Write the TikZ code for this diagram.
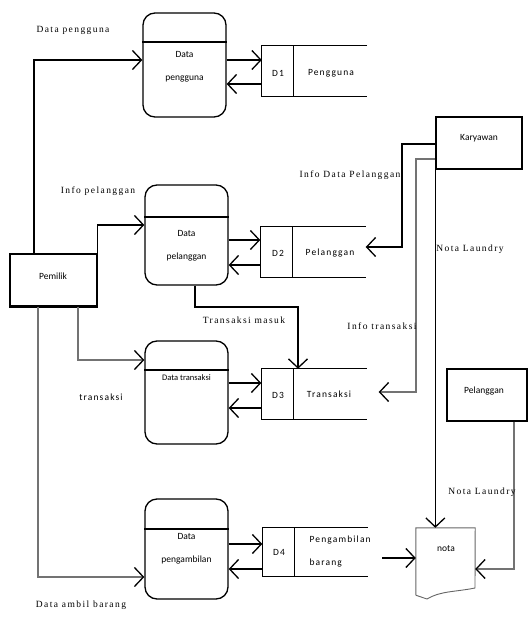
\documentclass[tikz,border=0pt]{standalone}
\usepackage{fontspec}
\setmainfont{Carlito}
\newfontfamily\lblfont[LetterSpace=15]{Liberation Serif}
\newfontfamily\spacedfont[LetterSpace=12]{Carlito}
\usetikzlibrary{arrows.meta}

\tikzset{
  proc/.style={draw,line width=1.3pt,rounded corners=12pt,minimum width=83pt,inner sep=0pt},
  ent/.style={draw,line width=1.3pt,minimum width=86pt,minimum height=52pt,inner sep=0pt},
  storebox/.style={minimum width=105pt,minimum height=50pt,inner sep=0pt},
  tip/.style={-{Straight Barb[length=9pt,width=19pt,line width=1.3pt,color=black]}},
  flow/.style={line width=1.2pt,tip},
  heavy/.style={line width=2.6pt,black!55,tip},
  lbl/.style={font=\lblfont\fontsize{9.5}{11}\selectfont},
  txt/.style={font=\fontsize{9.5}{23}\selectfont,align=center},
  stxt/.style={font=\spacedfont\fontsize{9.5}{23}\selectfont,align=left}
}

\begin{document}
\begin{tikzpicture}[x=1pt,y=-1pt]
  \useasboundingbox (0,0) rectangle (530,617);

  %% Processes
  \node[proc,minimum height=104pt] (p1) at (184.5,65) {};
  \node[proc,minimum height=100pt] (p2) at (186.5,235) {};
  \node[proc,minimum height=103pt] (p3) at (186.5,392.5) {};
  \node[proc,minimum height=100pt] (p4) at (186.5,549) {};
  \foreach \p/\y in {p1/42,p2/217,p3/370,p4/529}
    \draw[line width=1.3pt] (\p.west |- 0,\y) -- (\p.east |- 0,\y);
  \node[txt] at (p1.center |- 0,67) {Data\\pengguna};
  \node[txt] at (p2.center |- 0,246) {Data\\pelanggan};
  \node[txt,font=\fontsize{8.5}{10}\selectfont] at (p3.center |- 0,378) {Data transaksi};
  \node[txt] at (p4.center |- 0,549) {Data\\pengambilan};

  %% Stores
  \node[storebox] (d1) at (314.5,71) {};
  \node[storebox] (d2) at (313,252) {};
  \node[storebox] (d3) at (314,394) {};
  \node[storebox,minimum height=48pt] (d4) at (315,552) {};
  \foreach \s in {d1,d2,d3,d4}{
    \draw[line width=1.3pt] (\s.north east) -- (\s.north west) -- (\s.south west) -- (\s.south east);
    \draw[line width=1pt] ([xshift=32pt]\s.north west) -- ([xshift=32pt]\s.south west);
  }
  \node[stxt] at (278,73) {D1};
  \node[stxt] at (331,73) {Pengguna};
  \node[stxt] at (278,253) {D2};
  \node[stxt] at (330,253) {Pelanggan};
  \node[stxt] at (278,395) {D3};
  \node[stxt] at (329,394) {Transaksi};
  \node[stxt] at (279,552) {D4};
  \node[stxt,anchor=west] at (306,551.5) {Pengambilan\\barang};

  %% Entities
  \node[ent,minimum width=87pt] (pemilik) at (53.5,280) {};
  \node[txt] at (53,276) {Pemilik};
  \draw[line width=2.6pt] (pemilik.south west) -- (pemilik.south east);
  \node[ent] (karyawan) at (479,143) {};
  \node[txt] at (479,138) {Karyawan};
  \node[ent,minimum width=80pt] (pelanggan) at (487,395) {};
  \node[txt] at (484,391) {Pelanggan};

  %% nota
  \node[minimum width=59pt,minimum height=67pt,inner sep=0pt] (nota) at (445.5,561.5) {};
  \draw[black!60,line width=0.9pt] (nota.south west) -- (nota.north west) -- (nota.north east) -- (475,588)
    .. controls (455,592) and (440,591) .. (427,599) -- (nota.south west);
  \node[txt] at (446,549) {nota};

  %% Flows
  \draw[flow] (34,0 |- pemilik.north) |- (p1.west |- 0,60);
  \draw[flow] (p1.east |- 0,60) -- (d1.west |- 0,60);
  \draw[flow] (d1.west |- 0,84) -- (p1.east |- 0,84);
  \draw[flow] (pemilik.north east) |- (p2.west |- 0,225);
  \draw[flow] (p2.east |- 0,240) -- (d2.west |- 0,240);
  \draw[flow] (d2.west |- 0,265) -- (p2.east |- 0,265);
  \draw[flow] (195,0 |- p2.south) |- (298,307) -- (298,0 |- d3.north);
  \draw[heavy] (78,0 |- pemilik.south) |- (p3.west |- 0,360);
  \draw[flow] (p3.east |- 0,383) -- (d3.west |- 0,383);
  \draw[flow] (d3.west |- 0,408) -- (p3.east |- 0,408);
  \draw[heavy] (38,0 |- pemilik.south) |- (p4.west |- 0,577);
  \draw[flow] (p4.east |- 0,544) -- (d4.west |- 0,544);
  \draw[flow] (d4.west |- 0,569) -- (p4.east |- 0,569);
  \coordinate (d4out) at (382,558);
  \draw[flow] (d4out) -- (nota.west |- d4out);
  \draw[flow] (karyawan.west |- 0,144) -| (402,247) -- (d2.east |- 0,247);
  \coordinate (d3in) at ([xshift=12pt]d3.east);
  \draw[heavy] (karyawan.west |- 0,159) -| (416,392) -- (d3in |- 0,392);
  \draw[flow] (karyawan.south west) -- (karyawan.south west |- nota.north);
  \draw[heavy] (514,0 |- pelanggan.south) |- (nota.east |- 0,569);

  %% Labels
  \node[lbl] at (73,30) {Data pengguna};
  \node[lbl] at (98,191) {Info pelanggan};
  \node[lbl] at (244,320) {Transaksi masuk};
  \node[stxt] at (101,397) {transaksi};
  \node[lbl] at (81,605) {Data ambil barang};
  \node[lbl] at (350,175) {Info Data Pelanggan};
  \node[lbl] at (470,249) {Nota Laundry};
  \node[lbl] at (382,326) {Info transaksi};
  \node[lbl] at (482,492) {Nota Laundry};
\end{tikzpicture}
\end{document}
